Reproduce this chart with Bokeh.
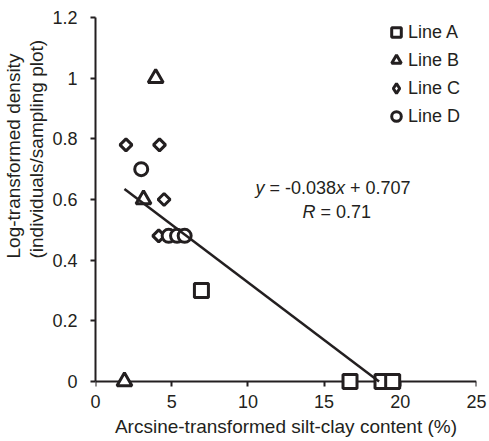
import math
from bokeh.plotting import figure
from bokeh.models import (Range1d, FixedTicker, Label, Legend, LegendItem,
                          ColumnDataSource, LinearAxis, Span, Title)
from bokeh.embed import file_html
from bokeh.resources import INLINE

# ---------------- data ----------------
series_names = ["Line A", "Line B", "Line C", "Line D"]
line_a_x = [6.95, 16.7, 18.8, 19.5]
line_a_y = [0.30, 0.0, 0.0, 0.0]
line_b_x = [3.95, 3.15, 1.9]
line_b_y = [1.0, 0.6, 0.0]
line_c_x = [2.0, 4.2, 4.5, 4.15]
line_c_y = [0.78, 0.78, 0.6, 0.48]
line_d_x = [3.0, 4.8, 5.35, 5.85]
line_d_y = [0.70, 0.48, 0.48, 0.48]

slope = -0.038
intercept = 0.707
r_value = 0.71

x_ticks = [0, 5, 10, 15, 20, 25]
y_ticks = [0, 0.2, 0.4, 0.6, 0.8, 1.0, 1.2]
y_tick_labels = ["0", "0.2", "0.4", "0.6", "0.8", "1", "1.2"]

x_title = "Arcsine-transformed silt-clay content (%)"
y_title = "Log-transformed density\n(individuals/sampling plot)"

# ---------------- style ----------------
INK = "#231f20"
FONT = "Liberation Sans"
FS = "18px"

p = figure(width=489, height=441,
           x_range=Range1d(0, 25), y_range=Range1d(-0.03, 1.2),
           output_backend="svg", toolbar_location=None,
           min_border_left=95, min_border_right=13,
           min_border_top=17, min_border_bottom=51)
p.outline_line_color = None
p.grid.visible = False
p.background_fill_color = "white"
p.border_fill_color = "white"

main_x = p.xaxis[0]
main_y = p.yaxis[0]

# x axis: ticks sit on y = 0 (fixed), labels + title on a separate axis below
main_x.ticker = FixedTicker(ticks=x_ticks)
main_x.fixed_location = 0
main_x.axis_line_color = None          # line drawn below the markers instead
main_x.major_tick_line_color = INK
main_x.major_tick_line_width = 2
main_x.major_tick_in = 0
main_x.major_tick_out = 5
main_x.minor_tick_line_color = None
main_x.major_label_text_color = None

label_x = LinearAxis(ticker=FixedTicker(ticks=x_ticks),
                     axis_line_color=None, major_tick_line_color=None,
                     minor_tick_line_color=None, major_tick_in=0,
                     major_tick_out=0, major_label_standoff=4,
                     major_label_text_font=FONT, major_label_text_font_size=FS,
                     major_label_text_color=INK,
                     axis_label=x_title, axis_label_text_font=FONT,
                     axis_label_text_font_size="19px",
                     axis_label_text_font_style="normal",
                     axis_label_text_color=INK, axis_label_standoff=5)
p.add_layout(label_x, "below")

# y axis
main_y.ticker = FixedTicker(ticks=y_ticks)
main_y.major_label_overrides = {t: l for t, l in zip(y_ticks, y_tick_labels)}
main_y.bounds = (0, 1.2)
main_y.axis_line_color = INK
main_y.axis_line_width = 2
main_y.major_tick_line_color = INK
main_y.major_tick_line_width = 2
main_y.major_tick_in = 0
main_y.major_tick_out = 5
main_y.minor_tick_line_color = None
main_y.major_label_text_font = FONT
main_y.major_label_text_font_size = FS
main_y.major_label_text_color = INK
main_y.major_label_standoff = 13

# y title (two lines, placed off-centre like the original)
p.add_layout(Title(text=y_title, align="left", offset=132,
                   vertical_align="middle", standoff=4,
                   text_font=FONT, text_font_size="19px",
                   text_font_style="normal", text_color=INK,
                   text_line_height=1.05), "left")

# x axis line under the markers
p.add_layout(Span(location=0, dimension="width", line_color=INK,
                  line_width=2, level="underlay"))

# regression line (from fit parameters)
all_x = line_a_x + line_b_x + line_c_x + line_d_x
x0 = min(all_x)
x1 = min(max(all_x), -intercept / slope)

# markers
mk = dict(line_color=INK, line_width=3, fill_color="white")
p.scatter(line_a_x, line_a_y, marker="square", size=14, **mk)
p.scatter(line_b_x, line_b_y, marker="triangle", size=15, **mk)
p.scatter(line_c_x, line_c_y, marker="square", angle=math.pi / 4, size=8.5, **mk)
p.scatter(line_d_x, line_d_y, marker="circle", size=13, **mk)

p.line([x0, x1], [slope * x0 + intercept, slope * x1 + intercept],
       line_color=INK, line_width=2.5)

# legend (proxy renderers so legend glyph shapes are independent)
proxy_markers = ["square", "triangle", "diamond", "circle"]
items = []
for name, m in zip(series_names, proxy_markers):
    r = p.scatter("x", "y",
                  source=ColumnDataSource(data=dict(x=[float("nan")],
                                                    y=[float("nan")])),
                  marker=m, size=10, **mk)
    items.append(LegendItem(label=name, renderers=[r]))
legend = Legend(items=items, location=(289, 262), glyph_width=24,
                glyph_height=24, spacing=4, padding=0, margin=0,
                label_standoff=0, label_text_font=FONT,
                label_text_font_size=FS, label_text_color=INK,
                border_line_alpha=0, background_fill_alpha=0)
p.add_layout(legend)

# equation text
eq_x, eq_y = 10.5, 0.639
r_x, r_y = 13.58, 0.557
lab = dict(text_font=FONT, text_font_size=FS, text_color=INK,
           text_baseline="middle", text_align="left")
p.add_layout(Label(x=eq_x, y=eq_y, x_offset=0, text="y",
                   text_font_style="italic", **lab))
p.add_layout(Label(x=eq_x, y=eq_y, x_offset=14,
                   text="= %.3f" % slope, **lab))
p.add_layout(Label(x=eq_x, y=eq_y, x_offset=80.5, text="x",
                   text_font_style="italic", **lab))
p.add_layout(Label(x=eq_x, y=eq_y, x_offset=94.5,
                   text="+ %.3f" % intercept, **lab))
p.add_layout(Label(x=r_x, y=r_y, x_offset=0, text="R",
                   text_font_style="italic", **lab))
p.add_layout(Label(x=r_x, y=r_y, x_offset=18,
                   text="= %.2f" % r_value, **lab))

open("out.html", "w").write(file_html(p, INLINE))
